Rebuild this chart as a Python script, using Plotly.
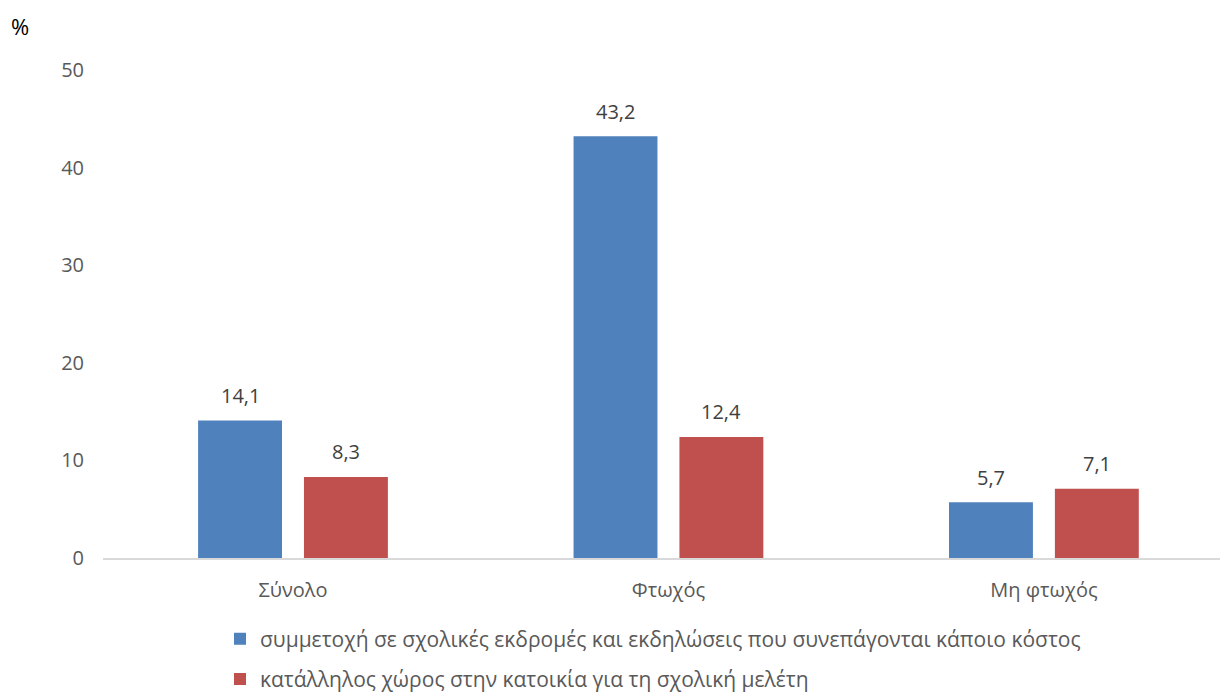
import plotly.graph_objects as go

categories = ["Σύνολο", "Φτωχός", "Μη φτωχός"]
series_names = [
    "συμμετοχή σε σχολικές εκδρομές και εκδηλώσεις που συνεπάγονται κάποιο κόστος",
    "κατάλληλος χώρος στην κατοικία για τη σχολική μελέτη",
]
values_trips = [14.1, 43.2, 5.7]
values_space = [8.3, 12.4, 7.1]
colors = ["#4F81BD", "#C0504D"]
y_ticks = [0, 10, 20, 30, 40, 50]

FONT = "Open Sans, Noto Sans, sans-serif"
TXT = "#595959"
BARGAP = 0.436
W, H = 1220, 697
ML, MR, MT, MB = 103, 0, 70, 139
PW, PH = W - ML - MR, H - MT - MB

fig = go.Figure()
for i, (name, vals) in enumerate(zip(series_names, [values_trips, values_space])):
    fig.add_trace(go.Bar(
        x=categories, y=vals, name=name, marker_color=colors[i],
        marker_line_width=0, legendgroup=str(i), hoverinfo="skip",
    ))

# data labels above bars
slot = (1 - BARGAP) / 2
for i, vals in enumerate([values_trips, values_space]):
    offset = (-0.5 + i) * slot
    for j, v in enumerate(vals):
        fig.add_annotation(
            x=j + offset, y=v, xref="x", yref="y",
            text=f"{v:.1f}".replace(".", ","), showarrow=False,
            yshift=25, yanchor="middle",
            font=dict(family=FONT, size=20, color="#404040"),
        )

fig.add_annotation(
    x=(9 - ML) / PW, y=(H - MB - 26) / PH, xref="paper", yref="paper",
    xanchor="left", yanchor="middle", text="%", showarrow=False,
    font=dict(family=FONT, size=22, color="#000000"),
)

fig.update_layout(
    width=W, height=H,
    margin=dict(l=ML, r=MR, t=MT, b=MB, autoexpand=False),
    plot_bgcolor="white", paper_bgcolor="white",
    barmode="group", bargap=BARGAP, bargroupgap=0.2075,
    separators=",.",
    font=dict(family=FONT, size=20, color=TXT),
    xaxis=dict(
        type="category", range=[-0.506, 2.469], showgrid=False,
        showline=True, linecolor="#D9D9D9", linewidth=1.5,
        ticks="", ticklabelstandoff=13, tickfont=dict(size=20, color=TXT),
    ),
    yaxis=dict(
        range=[0, 50], tickvals=y_ticks, showgrid=False, zeroline=False,
        showline=False, ticklabelstandoff=18, tickfont=dict(size=20, color=TXT),
    ),
    legend=dict(
        orientation="v", x=(220 - ML) / PW, y=-0.124, xanchor="left", yanchor="top",
        font=dict(size=21, color=TXT), tracegroupgap=10, itemwidth=30,
        traceorder="grouped",
    ),
    showlegend=True,
)

fig.write_html(
    "out.html",
    config={"displayModeBar": False},
    post_script="document.body.style.margin='0';document.body.style.overflow='hidden';",
)
